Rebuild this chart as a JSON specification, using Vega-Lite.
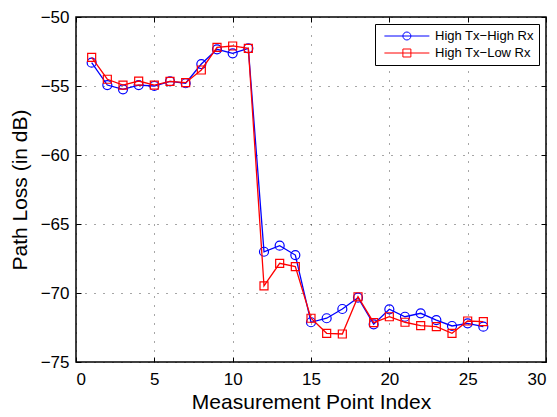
{
  "$schema": "https://vega.github.io/schema/vega-lite/v6.json",
  "width": 470,
  "height": 345,
  "autosize": {"type": "none"},
  "padding": {"left": 76, "top": 17, "right": 11, "bottom": 55},
  "background": "white",
  "config": {
    "font": "Liberation Sans",
    "view": {"stroke": "black", "strokeWidth": 1.5},
    "axis": {
      "domain": false,
      "grid": true,
      "gridColor": "#000000",
      "gridOpacity": 0.7,
      "gridDash": [1, 8],
      "gridWidth": 1,
      "tickColor": "black",
      "tickSize": -5,
      "tickWidth": 1,
      "labelFont": "Liberation Sans",
      "labelFontSize": 17,
      "labelColor": "black",
      "titleFont": "Liberation Sans",
      "titleFontSize": 21,
      "titleFontWeight": "normal",
      "titleColor": "black"
    }
  },
  "data": {
    "values": [
      {"idx": 1, "series": "High Tx−High Rx", "loss": -53.31},
      {"idx": 2, "series": "High Tx−High Rx", "loss": -54.93},
      {"idx": 3, "series": "High Tx−High Rx", "loss": -55.24},
      {"idx": 4, "series": "High Tx−High Rx", "loss": -54.93},
      {"idx": 5, "series": "High Tx−High Rx", "loss": -55.0},
      {"idx": 6, "series": "High Tx−High Rx", "loss": -54.66},
      {"idx": 7, "series": "High Tx−High Rx", "loss": -54.8},
      {"idx": 8, "series": "High Tx−High Rx", "loss": -53.41},
      {"idx": 9, "series": "High Tx−High Rx", "loss": -52.34},
      {"idx": 10, "series": "High Tx−High Rx", "loss": -52.63},
      {"idx": 11, "series": "High Tx−High Rx", "loss": -52.27},
      {"idx": 12, "series": "High Tx−High Rx", "loss": -67.01},
      {"idx": 13, "series": "High Tx−High Rx", "loss": -66.57},
      {"idx": 14, "series": "High Tx−High Rx", "loss": -67.25},
      {"idx": 15, "series": "High Tx−High Rx", "loss": -72.12},
      {"idx": 16, "series": "High Tx−High Rx", "loss": -71.83},
      {"idx": 17, "series": "High Tx−High Rx", "loss": -71.16},
      {"idx": 18, "series": "High Tx−High Rx", "loss": -70.34},
      {"idx": 19, "series": "High Tx−High Rx", "loss": -72.27},
      {"idx": 20, "series": "High Tx−High Rx", "loss": -71.18},
      {"idx": 21, "series": "High Tx−High Rx", "loss": -71.72},
      {"idx": 22, "series": "High Tx−High Rx", "loss": -71.47},
      {"idx": 23, "series": "High Tx−High Rx", "loss": -71.96},
      {"idx": 24, "series": "High Tx−High Rx", "loss": -72.39},
      {"idx": 25, "series": "High Tx−High Rx", "loss": -72.2},
      {"idx": 26, "series": "High Tx−High Rx", "loss": -72.44},
      {"idx": 1, "series": "High Tx−Low Rx", "loss": -52.92},
      {"idx": 2, "series": "High Tx−Low Rx", "loss": -54.51},
      {"idx": 3, "series": "High Tx−Low Rx", "loss": -54.93},
      {"idx": 4, "series": "High Tx−Low Rx", "loss": -54.64},
      {"idx": 5, "series": "High Tx−Low Rx", "loss": -54.93},
      {"idx": 6, "series": "High Tx−Low Rx", "loss": -54.66},
      {"idx": 7, "series": "High Tx−Low Rx", "loss": -54.76},
      {"idx": 8, "series": "High Tx−Low Rx", "loss": -53.84},
      {"idx": 9, "series": "High Tx−Low Rx", "loss": -52.2},
      {"idx": 10, "series": "High Tx−Low Rx", "loss": -52.1},
      {"idx": 11, "series": "High Tx−Low Rx", "loss": -52.27},
      {"idx": 12, "series": "High Tx−Low Rx", "loss": -69.49},
      {"idx": 13, "series": "High Tx−Low Rx", "loss": -67.85},
      {"idx": 14, "series": "High Tx−Low Rx", "loss": -68.09},
      {"idx": 15, "series": "High Tx−Low Rx", "loss": -71.83},
      {"idx": 16, "series": "High Tx−Low Rx", "loss": -72.92},
      {"idx": 17, "series": "High Tx−Low Rx", "loss": -72.97},
      {"idx": 18, "series": "High Tx−Low Rx", "loss": -70.27},
      {"idx": 19, "series": "High Tx−Low Rx", "loss": -72.15},
      {"idx": 20, "series": "High Tx−Low Rx", "loss": -71.72},
      {"idx": 21, "series": "High Tx−Low Rx", "loss": -72.12},
      {"idx": 22, "series": "High Tx−Low Rx", "loss": -72.37},
      {"idx": 23, "series": "High Tx−Low Rx", "loss": -72.44},
      {"idx": 24, "series": "High Tx−Low Rx", "loss": -72.92},
      {"idx": 25, "series": "High Tx−Low Rx", "loss": -72.03},
      {"idx": 26, "series": "High Tx−Low Rx", "loss": -72.08}
    ]
  },
  "layer": [
    {
      "transform": [{"filter": "datum.series === 'High Tx−High Rx'"}],
      "mark": {"type": "line", "strokeWidth": 1.3},
      "encoding": {
        "x": {"field": "idx", "type": "quantitative", "scale": {"domain": [0, 30], "nice": false}, "axis": {"values": [0, 5, 10, 15, 20, 25, 30], "title": "Measurement Point Index", "labelPadding": 14, "titlePadding": 4}},
        "y": {"field": "loss", "type": "quantitative", "scale": {"domain": [-75, -50], "nice": false, "zero": false}, "axis": {"values": [-75, -70, -65, -60, -55, -50], "title": "Path Loss (in dB)", "labelPadding": 12, "titlePadding": 10}},
        "color": {
          "field": "series", "type": "nominal",
          "scale": {"domain": ["High Tx−High Rx", "High Tx−Low Rx"], "range": ["#0000ff", "#ff0000"]},
          "legend": {
            "title": null,
            "orient": "top-right",
            "offset": 7,
            "fillColor": "white",
            "strokeColor": "black",
            "padding": 5,
            "labelFont": "Liberation Sans",
            "labelFontSize": 13,
            "labelColor": "black",
            "labelOffset": 41,
            "rowPadding": 3,
            "symbolSize": 169,
            "symbolStrokeWidth": 1,
            "encode": {
              "symbols": {
                "update": {
                  "shape": {"signal": "datum.value === 'High Tx−High Rx' ? 'M-0.4,0H6.52M3.675,0A0.615,0.615 0 1 1 2.445,0A0.615,0.615 0 1 1 3.675,0' : 'M-0.4,0H6.52M2.445,-0.615H3.675V0.615H2.445Z'"},
                  "fill": {"value": "transparent"},
                  "strokeWidth": {"value": 1},
                  "opacity": {"value": 1}
                }
              }
            }
          }
        }
      }
    },
    {
      "transform": [{"filter": "datum.series === 'High Tx−High Rx'"}],
      "mark": {"type": "point", "shape": "circle", "filled": false, "size": 81, "strokeWidth": 1.2, "opacity": 1},
      "encoding": {
        "x": {"field": "idx", "type": "quantitative", "axis": null},
        "y": {"field": "loss", "type": "quantitative", "axis": null},
        "color": {"field": "series", "type": "nominal"}
      }
    },
    {
      "transform": [{"filter": "datum.series === 'High Tx−Low Rx'"}],
      "mark": {"type": "line", "strokeWidth": 1.3},
      "encoding": {
        "x": {"field": "idx", "type": "quantitative", "axis": null},
        "y": {"field": "loss", "type": "quantitative", "axis": null},
        "color": {"field": "series", "type": "nominal"}
      }
    },
    {
      "transform": [{"filter": "datum.series === 'High Tx−Low Rx'"}],
      "mark": {"type": "point", "shape": "square", "filled": false, "size": 64, "strokeWidth": 1.2, "opacity": 1},
      "encoding": {
        "x": {"field": "idx", "type": "quantitative", "axis": {"orient": "top", "values": [0, 5, 10, 15, 20, 25, 30], "labels": false, "grid": false, "title": null}},
        "y": {"field": "loss", "type": "quantitative", "axis": {"orient": "right", "values": [-75, -70, -65, -60, -55, -50], "labels": false, "grid": false, "title": null}},
        "color": {"field": "series", "type": "nominal"}
      }
    }
  ],
  "resolve": {"axis": {"x": "independent", "y": "independent"}}
}
